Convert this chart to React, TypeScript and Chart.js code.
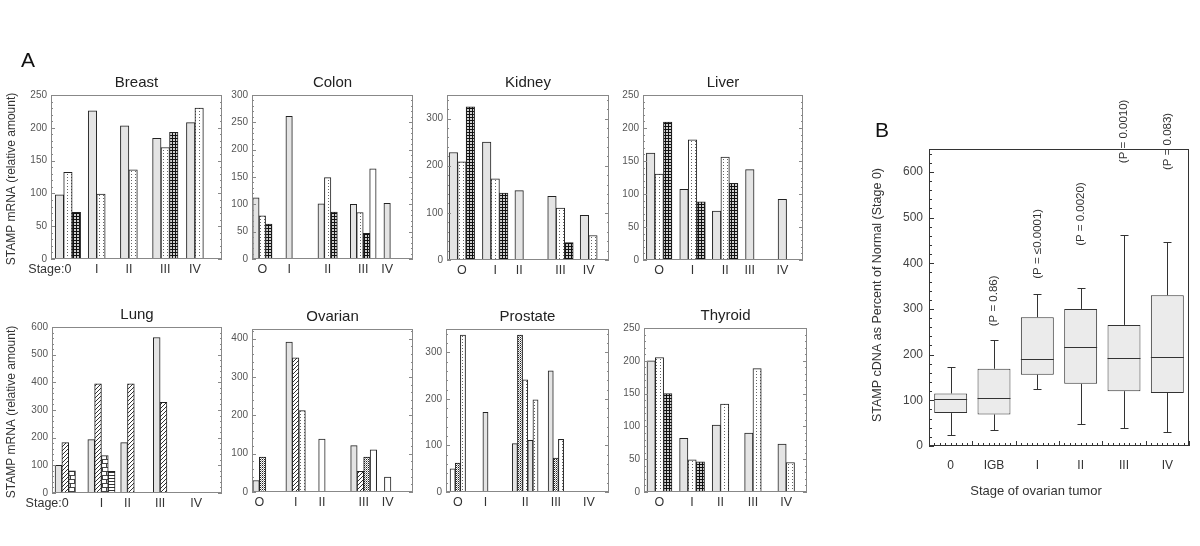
import React, { useEffect, useRef } from "react";
import { Chart, registerables } from "chart.js";

Chart.register(...registerables);

const FONT = "'Liberation Sans', Arial, Helvetica, sans-serif";

// ---------------- Panel A data ----------------
const stageZero = ["0", "I", "II", "III", "IV"];
const stageO = ["O", "I", "II", "III", "IV"];

// Breast
const breastPos = [2.0, 5.4, 9.2, 13.5, 17.0];
const breastValues = [[98, 132, 71], [226, 99], [203, 136], [184, 170, 193], [208, 230]];
const breastFills = [["g", "d", "c"], ["g", "d"], ["g", "d"], ["g", "d", "c"], ["g", "d"]];

// Colon
const colonPos = [1.6, 5.74, 11.7, 17.2, 20.9];
const colonValues = [[112, 79, 64], [261], [101, 149, 86], [100, 85, 47, 165], [102]];
const colonFills = [["g", "d", "c"], ["g"], ["g", "d", "c"], ["g", "d", "c", "w"], ["g"]];

// Kidney
const kidneyPos = [1.75, 5.67, 8.49, 13.35, 16.67];
const kidneyValues = [[228, 208, 325], [250, 172, 142], [147], [135, 110, 37], [95, 52]];
const kidneyFills = [["g", "d", "c"], ["g", "d", "c"], ["g"], ["g", "d", "c"], ["g", "d"]];

// Liver
const liverPos = [1.9, 5.82, 9.65, 12.55, 16.37];
const liverValues = [[162, 130, 209], [107, 182, 88], [74, 156, 116], [137], [92]];
const liverFills = [["g", "d", "c"], ["g", "d", "c"], ["g", "d", "c"], ["g"], ["g"]];

// Lung
const lungPos = [1.95, 7.27, 11.1, 15.9, 21.2];
const lungValues = [[100, 182, 80], [193, 395, 135, 78], [182, 395], [562, 328], []];
const lungFills = [["g", "h", "b"], ["g", "h", "b", "l"], ["g", "h"], ["g", "h"], []];

// Ovarian
const ovarianPos = [1.13, 6.72, 10.77, 17.2, 20.9];
const ovarianValues = [[30, 91], [391, 350, 212], [138], [121, 54, 91, 110], [39]];
const ovarianFills = [["g", "x"], ["g", "h", "d"], ["w"], ["g", "h", "x", "w"], ["w"]];

// Prostate
const prostatePos = [2.29, 7.65, 15.35, 21.3, 27.7];
const prostateValues = [[50, 62, 337], [171], [104, 337, 241, 111, 198], [260, 73, 113], []];
const prostateFills = [["w", "x", "d"], ["g"], ["g", "x", "d", "g", "d"], ["g", "x", "d"], []];

// Thyroid
const thyroidPos = [1.86, 5.78, 9.2, 13.1, 17.1];
const thyroidValues = [[200, 205, 150], [82, 49, 46], [102, 134], [90, 188], [73, 45]];
const thyroidFills = [["g", "d", "c"], ["g", "d", "c"], ["g", "d"], ["g", "d"], ["g", "d"]];

// ---------------- Panel B data ----------------
const bCategories = ["0", "IGB", "I", "II", "III", "IV"];
const bMin = [24, 34, 125, 48, 40, 30];
const bQ1 = [72, 69, 156, 136, 120, 116];
const bMedian = [102, 104, 191, 217, 193, 195];
const bQ3 = [115, 169, 282, 300, 265, 330];
const bMax = [172, 233, 333, 346, 462, 447];
const bPLabels = ["", "(P = 0.86)", "(P = \u22640.0001)", "(P = 0.0020)", "(P = 0.0010)", "(P = 0.083)"];
const bPLabelAt = [0, 262, 366, 438, 619, 604];

// ---------------- layout ----------------
const ML = 50, MT = 56, MR = 8, MB = 25;

type Spec = {
  title: string; rect: number[]; yMax: number; yStep: number; yMinor: number; xMax: number;
  pos: number[]; values: number[][]; fills: string[][]; labels: string[];
  stagePrefix?: boolean; yTitle?: boolean; letter?: string;
};

const panelSpecs: Spec[] = [
  { title: "Breast", rect: [51, 95, 222, 259], yMax: 250, yStep: 50, yMinor: 10, xMax: 20.2, pos: breastPos, values: breastValues, fills: breastFills, labels: stageZero, stagePrefix: true, yTitle: true, letter: "A" },
  { title: "Colon", rect: [252, 95, 413, 259], yMax: 300, yStep: 50, yMinor: 10, xMax: 24.9, pos: colonPos, values: colonValues, fills: colonFills, labels: stageO },
  { title: "Kidney", rect: [447, 95, 609, 260], yMax: 350, yStep: 100, yMinor: 20, xMax: 19.06, pos: kidneyPos, values: kidneyValues, fills: kidneyFills, labels: stageO },
  { title: "Liver", rect: [643, 95, 803, 260], yMax: 250, yStep: 50, yMinor: 10, xMax: 18.8, pos: liverPos, values: liverValues, fills: liverFills, labels: stageO },
  { title: "Lung", rect: [52, 327, 222, 493], yMax: 600, yStep: 100, yMinor: 20, xMax: 25, pos: lungPos, values: lungValues, fills: lungFills, labels: stageZero, stagePrefix: true, yTitle: true },
  { title: "Ovarian", rect: [252, 329, 413, 492], yMax: 425, yStep: 100, yMinor: 20, xMax: 24.8, pos: ovarianPos, values: ovarianValues, fills: ovarianFills, labels: stageO },
  { title: "Prostate", rect: [446, 329, 609, 492], yMax: 350, yStep: 100, yMinor: 20, xMax: 31.6, pos: prostatePos, values: prostateValues, fills: prostateFills, labels: stageO },
  { title: "Thyroid", rect: [644, 328, 807, 492], yMax: 250, yStep: 50, yMinor: 10, xMax: 19.6, pos: thyroidPos, values: thyroidValues, fills: thyroidFills, labels: stageO },
];

function makeFill(kind: string): any {
  if (kind === "g") return "#e4e4e4";
  if (kind === "w") return "#ffffff";
  const c = document.createElement("canvas");
  const g = c.getContext("2d")!;
  const bgWhite = (w: number, h: number) => { c.width = w; c.height = h; g.fillStyle = "#ffffff"; g.fillRect(0, 0, w, h); };
  const px = (x: number, y: number, col: string) => { g.fillStyle = col; g.fillRect(x, y, 1, 1); };
  if (kind === "d") { bgWhite(4, 3); px(2, 0, "#666"); }
  else if (kind === "c") { c.width = 3; c.height = 3; g.fillStyle = "#111"; g.fillRect(0, 0, 3, 3); g.fillStyle = "#d0d0d0"; g.fillRect(1, 1, 2, 2); }
  else if (kind === "h") { bgWhite(4, 4); px(3, 0, "#333"); px(2, 1, "#333"); px(1, 2, "#333"); px(0, 3, "#333"); }
  else if (kind === "b") { bgWhite(8, 8); g.fillStyle = "#444"; g.fillRect(0, 0, 8, 1); g.fillRect(0, 4, 8, 1); g.fillRect(0, 1, 1, 3); g.fillRect(4, 5, 1, 3); }
  else if (kind === "l") { bgWhite(4, 3); g.fillStyle = "#333"; g.fillRect(0, 0, 4, 1); }
  else if (kind === "x") { bgWhite(2, 2); px(0, 0, "#222"); px(1, 1, "#999"); }
  return g.createPattern(c, "repeat");
}

function panelPlugin(spec: Spec, cl: number, ct: number) {
  return {
    id: "panelDeco",
    afterDraw(chart: any) {
      const { ctx, chartArea: a, scales } = chart;
      const y = scales.y, x = scales.x;
      ctx.save();
      ctx.strokeStyle = "#888";
      ctx.lineWidth = 1;
      ctx.strokeRect(Math.round(a.left) + 0.5, Math.round(a.top) + 0.5, Math.round(a.right - a.left) - 1, Math.round(a.bottom - a.top) - 1);
      ctx.beginPath();
      for (let v = 0; v <= spec.yMax + 1e-9; v += spec.yMinor) {
        const py = Math.round(y.getPixelForValue(v)) + 0.5;
        const major = Math.abs(v / spec.yStep - Math.round(v / spec.yStep)) < 1e-6;
        const len = major ? 4 : 2;
        ctx.moveTo(a.left, py); ctx.lineTo(a.left + len, py);
        ctx.moveTo(a.right - len, py); ctx.lineTo(a.right, py);
      }
      ctx.stroke();
      ctx.fillStyle = "#222";
      ctx.font = `15px ${FONT}`;
      ctx.textAlign = "center";
      ctx.textBaseline = "middle";
      ctx.fillText(spec.title, (a.left + a.right) / 2, a.top - 12);
      if (spec.stagePrefix) {
        ctx.font = `12.5px ${FONT}`;
        ctx.fillStyle = "#333";
        ctx.textAlign = "right";
        ctx.fillText("Stage:", x.getPixelForValue(spec.pos[0]) - 3.5, a.bottom + 3 + 7.5);
      }
      if (spec.yTitle) {
        ctx.save();
        ctx.translate(12 - cl, (a.top + a.bottom) / 2 + 2);
        ctx.rotate(-Math.PI / 2);
        ctx.font = `12px ${FONT}`;
        ctx.fillStyle = "#333";
        ctx.textAlign = "center";
        ctx.textBaseline = "middle";
        ctx.fillText("STAMP mRNA (relative amount)", 0, 0);
        ctx.restore();
      }
      if (spec.letter) {
        ctx.font = `21px ${FONT}`;
        ctx.fillStyle = "#111";
        ctx.textAlign = "left";
        ctx.textBaseline = "alphabetic";
        ctx.fillText(spec.letter, 21 - cl, 67 - ct);
      }
      ctx.restore();
    },
  };
}

function buildBarConfig(spec: Spec, cl: number, ct: number): any {
  const data: any[] = [];
  const bg: any[] = [];
  spec.values.forEach((grp, gi) =>
    grp.forEach((v, bi) => {
      data.push({ x: spec.pos[gi] + bi - (grp.length - 1) / 2, y: v });
      bg.push(makeFill(spec.fills[gi][bi]));
    })
  );
  return {
    type: "bar",
    data: {
      datasets: [{
        data, backgroundColor: bg, borderColor: "#222", borderWidth: 1,
        borderSkipped: "bottom", barPercentage: 1, categoryPercentage: 1,
      }],
    },
    options: {
      animation: false,
      responsive: false,
      maintainAspectRatio: false,
      events: [],
      layout: { padding: { left: 0, top: MT, right: MR, bottom: 0 } },
      plugins: { legend: { display: false }, tooltip: { enabled: false }, title: { display: false } },
      scales: {
        x: {
          type: "linear", min: 0, max: spec.xMax, offset: false,
          grid: { display: false, drawTicks: false }, border: { display: false },
          afterFit: (s: any) => { s.height = MB; },
          afterBuildTicks: (s: any) => { s.ticks = spec.pos.map((v) => ({ value: v })); },
          ticks: {
            autoSkip: false, maxRotation: 0, minRotation: 0, padding: 3, color: "#333",
            font: { family: FONT, size: 12.5 },
            callback: (_v: any, i: number) => spec.labels[i],
          },
        },
        y: {
          min: 0, max: spec.yMax,
          grid: { display: false, drawTicks: false }, border: { display: false },
          afterFit: (s: any) => { s.width = ML; },
          ticks: { stepSize: spec.yStep, includeBounds: false, padding: 4, color: "#555", font: { family: FONT, size: 10 } },
        },
      },
    },
    plugins: [panelPlugin(spec, cl, ct)],
  };
}

function BarPanel({ spec }: { spec: Spec }) {
  const ref = useRef<HTMLCanvasElement>(null);
  const [l, t, r, b] = spec.rect;
  const cl = l - ML, ct = t - MT, cw = r + MR - cl, ch = b + MB - ct;
  useEffect(() => {
    const chart = new Chart(ref.current as HTMLCanvasElement, buildBarConfig(spec, cl, ct));
    return () => chart.destroy();
  }, []);
  return (
    <canvas ref={ref} width={cw} height={ch}
      style={{ position: "absolute", left: cl, top: ct, width: cw, height: ch }} />
  );
}

// ---------------- Panel B ----------------
const B_LEFT = 859, B_TOP = 90, B_W = 338, B_H = 420;

const boxPlugin = {
  id: "boxDeco",
  afterDatasetsDraw(chart: any) {
    const { ctx, scales } = chart;
    const y = scales.y;
    const meta = chart.getDatasetMeta(0);
    ctx.save();
    ctx.strokeStyle = "#333";
    ctx.lineWidth = 1;
    bCategories.forEach((_c, i) => {
      const el = meta.data[i];
      const cx = Math.round(el.x) + 0.5;
      const hw = el.width / 2;
      const ym = Math.round(y.getPixelForValue(bMedian[i])) + 0.5;
      const yt = Math.round(y.getPixelForValue(bMax[i])) + 0.5;
      const yb = Math.round(y.getPixelForValue(bMin[i])) + 0.5;
      ctx.beginPath();
      ctx.moveTo(el.x - hw, ym); ctx.lineTo(el.x + hw, ym);
      ctx.moveTo(cx, y.getPixelForValue(bQ3[i])); ctx.lineTo(cx, yt);
      ctx.moveTo(cx, y.getPixelForValue(bQ1[i])); ctx.lineTo(cx, yb);
      ctx.moveTo(cx - 4, yt); ctx.lineTo(cx + 4, yt);
      ctx.moveTo(cx - 4, yb); ctx.lineTo(cx + 4, yb);
      ctx.stroke();
    });
    ctx.restore();
  },
  afterDraw(chart: any) {
    const { ctx, chartArea: a, scales } = chart;
    const y = scales.y, x = scales.x;
    ctx.save();
    ctx.strokeStyle = "#333";
    ctx.lineWidth = 1;
    ctx.strokeRect(Math.round(a.left) + 0.5, Math.round(a.top) + 0.5, Math.round(a.right - a.left) - 1, Math.round(a.bottom - a.top) - 1);
    ctx.beginPath();
    for (let v = 0; v <= 640; v += 20) {
      const py = Math.round(y.getPixelForValue(v)) + 0.5;
      const len = v % 100 === 0 ? 5 : 3;
      ctx.moveTo(a.left, py); ctx.lineTo(a.left + len, py);
    }
    const catW = (a.right - a.left) / bCategories.length;
    for (let k = 0; k <= bCategories.length * 8; k++) {
      const px = Math.round(a.left + (k * catW) / 8) + 0.5;
      const len = k % 8 === 0 ? 5 : 3;
      ctx.moveTo(px, a.bottom); ctx.lineTo(px, a.bottom - len);
    }
    ctx.stroke();

    // P-value labels
    ctx.fillStyle = "#333";
    ctx.font = `11.5px ${FONT}`;
    ctx.textAlign = "left";
    ctx.textBaseline = "middle";
    bCategories.forEach((_c, i) => {
      if (!bPLabels[i]) return;
      ctx.save();
      ctx.translate(x.getPixelForValue(i), y.getPixelForValue(bPLabelAt[i]));
      ctx.rotate(-Math.PI / 2);
      ctx.fillText(bPLabels[i], 0, 0);
      ctx.restore();
    });

    // axis titles
    ctx.save();
    ctx.translate(878 - B_LEFT, 295 - B_TOP);
    ctx.rotate(-Math.PI / 2);
    ctx.font = `12.5px ${FONT}`;
    ctx.textAlign = "center";
    ctx.fillText("STAMP cDNA as Percent of Normal (Stage 0)", 0, 0);
    ctx.restore();

    ctx.font = `13px ${FONT}`;
    ctx.textAlign = "center";
    ctx.fillText("Stage of ovarian tumor", 1036 - B_LEFT, 491 - B_TOP);

    ctx.font = `21px ${FONT}`;
    ctx.fillStyle = "#111";
    ctx.textAlign = "left";
    ctx.textBaseline = "alphabetic";
    ctx.fillText("B", 875 - B_LEFT, 137 - B_TOP);
    ctx.restore();
  },
};

function BoxPanel() {
  const ref = useRef<HTMLCanvasElement>(null);
  useEffect(() => {
    const chart = new Chart(ref.current as HTMLCanvasElement, {
      type: "bar",
      data: {
        labels: bCategories,
        datasets: [{
          data: bCategories.map((_c, i) => [bQ1[i], bQ3[i]]) as any,
          backgroundColor: "#ebebeb", borderColor: "#333", borderWidth: 1,
          borderSkipped: false, barPercentage: 0.76, categoryPercentage: 1,
        }],
      },
      options: {
        animation: false,
        responsive: false,
        maintainAspectRatio: false,
        events: [],
        layout: { padding: { left: 0, top: 59, right: 8, bottom: 34 } },
        plugins: { legend: { display: false }, tooltip: { enabled: false } },
        scales: {
          x: {
            grid: { display: false, drawTicks: false }, border: { display: false },
            afterFit: (s: any) => { s.height = 30; },
            ticks: { padding: 12, color: "#333", font: { family: FONT, size: 12 }, maxRotation: 0, autoSkip: false },
          },
          y: {
            min: 0, max: 650,
            grid: { display: false, drawTicks: false }, border: { display: false },
            afterFit: (s: any) => { s.width = 70; },
            ticks: { stepSize: 100, includeBounds: false, padding: 6, color: "#444", font: { family: FONT, size: 12 } },
          },
        },
      } as any,
      plugins: [boxPlugin],
    } as any);
    return () => chart.destroy();
  }, []);
  return (
    <canvas ref={ref} width={B_W} height={B_H}
      style={{ position: "absolute", left: B_LEFT, top: B_TOP, width: B_W, height: B_H }} />
  );
}

export default function App() {
  return (
    <div style={{ position: "absolute", left: 0, top: 0, width: 1200, height: 546, background: "#fff", overflow: "hidden" }}>
      {panelSpecs.map((s) => <BarPanel key={s.title} spec={s} />)}
      <BoxPanel />
    </div>
  );
}
